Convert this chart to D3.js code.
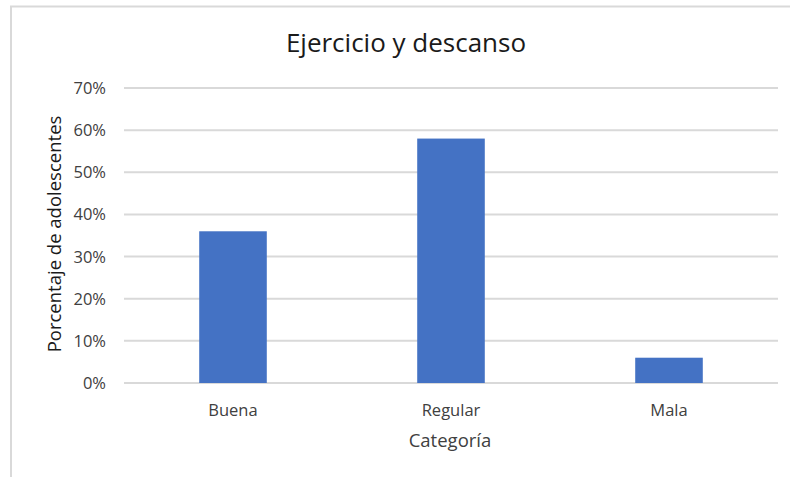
<!DOCTYPE html>
<html lang="es">
<head>
    <meta charset="UTF-8">
    <title>Ejercicio y descanso</title>
    <script src="https://d3js.org/d3.v7.min.js"></script>
    <style>
        body { margin: 0; background: #fff; }
        text { font-family: "Open Sans", "Noto Sans", sans-serif; fill: #404040; }
        .grid line { stroke: #d9d9d9; stroke-width: 2px; }
        .bar { fill: #4472c4; }
    </style>
</head>
<body>
    <svg width="790" height="477"></svg>
    <script>
        // datos del gráfico
        const categories = ["Buena", "Regular", "Mala"];
        const values = [0.36, 0.58, 0.06];
        const yTicks = [0, 0.1, 0.2, 0.3, 0.4, 0.5, 0.6, 0.7];

        const svg = d3.select("svg");

        // marco del gráfico
        svg.append("path")
            .attr("d", "M 11,477 L 11,6.5 L 790,6.5")
            .attr("fill", "none")
            .attr("stroke", "#d9d9d9")
            .attr("stroke-width", 2);

        const plotLeft = 124, plotRight = 778, plotTop = 88, plotBottom = 383;

        const x = d3.scaleBand()
            .domain(categories)
            .range([plotLeft, plotRight])
            .padding(0);

        const y = d3.scaleLinear()
            .domain([0, 0.7])
            .range([plotBottom, plotTop]);

        // líneas de cuadrícula
        svg.append("g")
            .attr("class", "grid")
            .selectAll("line")
            .data(yTicks)
            .enter().append("line")
            .attr("x1", plotLeft)
            .attr("x2", plotRight)
            .attr("y1", d => y(d))
            .attr("y2", d => y(d));

        // etiquetas del eje Y
        svg.append("g")
            .selectAll("text")
            .data(yTicks)
            .enter().append("text")
            .attr("x", 106)
            .attr("y", d => y(d) + 6)
            .attr("text-anchor", "end")
            .style("font-size", "16.5px")
            .text(d3.format(".0%"));

        // barras
        const barW = x.bandwidth() * 0.31;
        svg.append("g")
            .selectAll("rect")
            .data(values)
            .enter().append("rect")
            .attr("class", "bar")
            .attr("x", (d, i) => x(categories[i]) + (x.bandwidth() - barW) / 2)
            .attr("width", barW)
            .attr("y", d => y(d))
            .attr("height", d => y(0) - y(d));

        // etiquetas de categorías
        svg.append("g")
            .selectAll("text")
            .data(categories)
            .enter().append("text")
            .attr("x", d => x(d) + x.bandwidth() / 2)
            .attr("y", 416)
            .attr("text-anchor", "middle")
            .style("font-size", "16.5px")
            .text(d => d);

        // título
        svg.append("text")
            .attr("x", 406)
            .attr("y", 52)
            .attr("text-anchor", "middle")
            .style("font-size", "26px")
            .style("fill", "#1a1a1a")
            .text("Ejercicio y descanso");

        // títulos de ejes
        svg.append("text")
            .attr("x", 450)
            .attr("y", 447)
            .attr("text-anchor", "middle")
            .style("font-size", "18.5px")
            .text("Categoría");

        svg.append("text")
            .attr("transform", "translate(61,234) rotate(-90)")
            .attr("text-anchor", "middle")
            .style("font-size", "18.5px")
            .style("fill", "#1a1a1a")
            .text("Porcentaje de adolescentes");
    </script>
</body>
</html>
